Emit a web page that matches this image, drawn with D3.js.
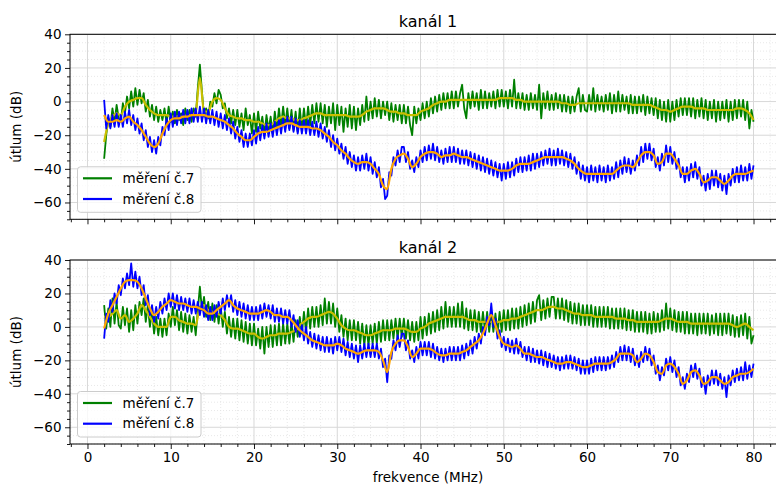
<!DOCTYPE html>
<html><head><meta charset="utf-8">
<script src="https://cdn.jsdelivr.net/npm/d3@7"></script>
<style>body{margin:0;background:#fff}svg text{font-family:"DejaVu Sans",sans-serif}</style>
</head><body>
<svg id="chart" width="776" height="486"></svg>
<script>
// ---------- data ----------
const panelTitles = ["kanál 1", "kanál 2"];
const seriesNames = ["měření č.7", "měření č.8"];
const xLabel = "frekvence (MHz)";
const yLabel = "útlum (dB)";
const xTickValues = [0, 10, 20, 30, 40, 50, 60, 70, 80];
const yTickValues = [-60, -40, -20, 0, 20, 40];
// raw traces: 2 MHz .. 80 MHz, step 0.25 MHz
const rawStart = 2, rawStep = 0.25;
// smoothed traces: 2 MHz .. 80 MHz, step 0.5 MHz
const smStart = 2, smStep = 0.5;

const k1_m7_raw = [
-34,-20,-10,-15,-4,-12,-2,-10, -12,-1,-7,3,-4,6,-3,8, -2,7,-1,5,-6,1,-9,-2, -11,-3,-12,-5,-11,-4,-13,-3,
-12,-6,-13,-5,-11,-7,-14,-4, -11,-5,-12,-4,-9,8,22,6, -9,-4,-10,0,-3,5,-1,7, 4,-4,-1,-10,-4,-13,-5,-14,
-5,-15,-7,-17,-4,-14,-8,-19, -7,-18,-6,-16,-9,-20,-8,-17, -9,-19,-6,-16,-4,-15,-3,-14, -4,-16,-5,-17,-6,-18,-4,-16,
-4,-15,-3,-14,-2,-13,-1,-12, -1,-13,-2,-15,-3,-13,-1,-17, -2,-14,-3,-18,-4,-15,-2,-16, -3,-17,-4,-14,-2,-12,3,-11,
0,-10,2,-9,1,-10,0,-8, 0,-11,-1,-12,-2,-11,-2,-13, -2,-13,-3,-14,-20,-3,-13,-4, -11,-1,-10,0,-9,2,-7,3,
-6,4,-5,5,-4,5,-4,6, -4,6,-3,5,10,-4,-10,5, -4,6,-3,5,-5,7,-4,6, -4,5,-3,6,-4,7,-3,7,
-3,6,-4,7,-3,13,-4,5, -4,5,-5,4,-5,5,-4,4, -5,10,-10,5,-4,6,-5,4, -5,5,-4,4,-6,4,-6,3,
-7,3,-6,3,8,-6,4,-5, -6,4,-5,8,-6,4,-5,3, -6,4,-5,5,-7,4,-6,6, -6,4,-5,3,-7,4,-7,3,
-7,3,-6,4,-8,3,-7,2, -8,2,-10,1,-11,0,-12,1, -12,0,-11,1,-9,2,-8,2, -8,2,-9,2,-10,1,-9,2,
-10,1,-11,0,-10,1,-12,0, -11,0,-10,1,-12,0,-11,1, -10,1,-9,1,-11,0,-16,-5, -12];

const k1_m8_raw = [
1,-16,-8,-16,-8,-15,-7,-15, -8,-15,-6,-13,-5,-14,-8,-17, -10,-19,-13,-23,-17,-27,-21,-30, -23,-31,-21,-26,-15,-20,-10,-17,
-7,-15,-6,-14,-6,-13,-5,-13, -5,-13,-4,-12,-4,-12,-3,-12, -4,-13,-5,-13,-5,-14,-6,-15, -7,-16,-8,-17,-10,-19,-12,-22,
-15,-24,-17,-27,-19,-27,-19,-26, -17,-25,-15,-23,-14,-22,-13,-21, -13,-21,-12,-20,-11,-19,-10,-18, -9,-17,-9,-18,-10,-19,-11,-19,
-11,-19,-11,-20,-12,-20,-12,-21, -13,-22,-15,-24,-17,-27,-20,-29, -22,-31,-25,-34,-27,-37,-30,-39, -32,-41,-33,-41,-32,-40,-31,-41,
-33,-43,-36,-45,-39,-51,-46,-58, -56,-42,-44,-33,-38,-29,-36,-27, -27,-36,-30,-40,-35,-42,-33,-39, -29,-36,-27,-35,-26,-34,-25,-35,
-27,-36,-29,-37,-28,-36,-27,-36, -27,-36,-28,-37,-29,-37,-29,-38, -30,-39,-31,-40,-32,-41,-33,-42, -34,-43,-35,-44,-36,-45,-37,-47,
-37,-46,-36,-45,-36,-44,-34,-42, -33,-42,-33,-41,-32,-41,-31,-40, -31,-39,-30,-38,-29,-37,-28,-38, -29,-38,-28,-37,-29,-38,-30,-39,
-31,-40,-33,-43,-36,-46,-38,-47, -39,-48,-38,-47,-39,-48,-38,-47, -39,-48,-38,-47,-39,-46,-36,-45, -35,-43,-33,-42,-34,-43,-35,-41,
-32,-38,-27,-36,-25,-34,-25,-35, -28,-39,-33,-41,-31,-38,-26,-36, -27,-37,-30,-40,-34,-45,-39,-48, -39,-47,-37,-45,-36,-46,-39,-50,
-44,-53,-43,-52,-41,-50,-41,-51, -43,-53,-44,-55,-43,-50,-40,-48, -39,-48,-38,-47,-39,-47,-37,-46, -38];

const k2_m7_raw = [
13,-1,11,0,17,2,15,1, -1,12,1,11,-3,10,-2,13, 2,15,7,17,3,13,0,9, -4,6,-5,5,-6,5,-5,8,
0,12,1,10,-2,9,-3,8, -4,7,-3,6,-5,10,24,10, 18,6,15,4,14,3,13,2, 12,0,9,-4,6,-6,5,-7,
5,-8,4,-9,3,-10,2,-11, 2,-11,-1,-13,0,-16,0,-12, 1,-12,1,-11,2,-11,2,-10, 2,-10,3,-9,4,-6,6,-4,
9,-3,11,-1,12,0,12,0, 13,1,17,2,15,2,14,0, 11,-3,7,-6,5,-8,4,-8, 4,-8,3,-10,2,-11,1,-11,
1,-10,2,-10,3,-9,4,-8, 4,-8,4,-7,5,-7,5,-6, 5,-7,4,-8,3,-9,3,-8, 6,-7,6,-5,8,-4,9,-3,
10,-2,12,-1,15,0,12,0, 12,0,14,0,15,-1,11,-2, 10,-2,10,-3,9,-3,9,-3, 9,-3,9,-3,8,-4,9,-3,
10,-2,10,-2,11,-1,11,-1, 12,0,13,1,14,2,15,3, 16,19,4,16,5,17,6,18, 18,5,17,5,17,4,16,3,
15,2,14,2,14,1,13,1, 13,1,13,0,12,0,12,0, 12,0,12,-1,11,-1,11,-1, 11,-1,11,-2,10,-2,10,-3,
9,-3,9,-3,9,-4,8,-4, 9,-3,8,-3,10,-2,14,-1, 11,-2,10,-3,9,-3,9,-4, 9,-4,8,-4,8,-5,8,-4,
8,-4,8,-5,7,-4,8,-5, 8,-5,8,-4,8,-5,7,-6, 6,-6,7,-5,8,-7,6,-10, -5];

const k2_m8_raw = [
-7,8,3,16,9,20,14,25, 19,29,23,32,25,38,24,33, 23,30,19,25,13,19,7,13, 3,12,5,15,8,17,10,20,
12,20,11,19,10,18,10,17, 9,17,8,16,8,15,7,15, 6,13,4,12,4,13,6,15, 8,17,10,19,12,19,9,16,
7,15,6,14,5,13,4,12, 4,12,4,13,5,14,6,13, 5,13,3,11,3,11,2,10, 2,10,0,7,-3,4,-6,1,
-8,0,-10,-3,-12,-4,-13,-5, -14,-6,-15,-6,-15,-7,-16,-6, -14,-6,-15,-7,-17,-9,-18,-10, -19,-11,-21,-11,-19,-10,-18,-10,
-18,-10,-18,-10,-19,-13,-24,-19, -33,-17,-19,-8,-14,-5,-12,-4, -4,-14,-8,-19,-14,-21,-12,-19, -9,-17,-9,-17,-9,-18,-10,-19,
-12,-20,-13,-21,-13,-20,-12,-20, -12,-20,-12,-20,-11,-19,-10,-17, -8,-16,-6,-13,-4,-10,0,-5, 6,1,14,0,5,-7,-2,-12,
-6,-14,-7,-15,-8,-16,-7,-16, -9,-18,-12,-20,-12,-21,-13,-21, -14,-22,-14,-23,-15,-24,-16,-24, -17,-25,-18,-26,-18,-25,-17,-25,
-17,-25,-18,-26,-19,-28,-20,-28, -20,-28,-19,-27,-18,-26,-18,-26, -18,-26,-18,-25,-17,-24,-15,-21, -12,-20,-11,-20,-12,-21,-13,-23,
-17,-24,-15,-21,-12,-20,-13,-23, -17,-28,-23,-32,-24,-29,-19,-26, -18,-27,-20,-30,-24,-35,-30,-37, -28,-33,-23,-30,-22,-31,-25,-36,
-30,-40,-29,-35,-26,-34,-26,-35, -28,-37,-30,-42,-29,-35,-26,-33, -25,-32,-24,-32,-21,-31,-23,-30, -22];

const k1_m7_smooth = [
-24,-13,-9,-7,-8,-3,0,1,2,2, -2,-5,-7,-8,-8,-8,-9,-9,-9,-9,
-8,-8,-6,14,-6,-6,0,2,1,-4, -8,-9,-10,-10,-11,-11,-12,-12,-13,-14,
-14,-12,-10,-9,-10,-10,-11,-11,-10,-9, -8,-7,-7,-8,-8,-8,-8,-8,-8,-9,
-9,-9,-8,-6,-5,-4,-4,-4,-5,-6, -6,-7,-7,-8,-8,-8,-6,-5,-4,-2,
-1,0,0,1,1,1,1,1,1,1, 1,1,1,1,1,2,2,2,2,1,
1,0,0,0,0,0,0,0,0,0, -1,-1,-2,-2,-1,-1,-1,-1,-1,-1,
-1,-1,-1,-1,-1,-1,-1,-2,-2,-2, -2,-2,-3,-4,-5,-5,-6,-5,-4,-3,
-3,-3,-4,-4,-4,-5,-5,-5,-5,-5, -5,-5,-4,-4,-5,-7,-11];

const k1_m8_smooth = [
-8,-12,-12,-11,-12,-10,-9,-12,-14,-17, -21,-25,-27,-25,-19,-14,-11,-10,-10,-9,
-9,-8,-8,-8,-8,-9,-9,-10,-11,-12, -14,-16,-19,-21,-23,-23,-21,-19,-18,-18,
-17,-16,-15,-14,-13,-13,-14,-15,-15,-15, -16,-16,-17,-19,-21,-24,-26,-29,-31,-34,
-36,-37,-36,-36,-37,-40,-43,-50,-52,-40, -34,-32,-31,-34,-39,-37,-33,-31,-30,-30,
-31,-33,-32,-32,-31,-32,-33,-33,-34,-35, -36,-37,-38,-39,-40,-41,-41,-41,-40,-38,
-37,-37,-37,-36,-35,-34,-33,-33,-33,-33, -33,-34,-35,-37,-40,-42,-43,-43,-43,-43,
-43,-43,-43,-41,-39,-38,-38,-39,-36,-32, -30,-30,-32,-37,-36,-31,-31,-34,-38,-43,
-43,-41,-40,-43,-48,-47,-45,-45,-47,-49, -47,-44,-43,-43,-43,-42,-41];

const k2_m7_smooth = [
6,6,8,10,5,7,3,5,8,13, 10,6,2,0,0,0,6,6,4,3,
2,2,1,12,13,10,9,8,7,4, 0,-1,-1,-2,-3,-4,-4,-6,-7,-6,
-5,-5,-4,-4,-4,-3,-2,1,3,5, 6,6,7,8,9,8,5,1,-1,-2,
-2,-3,-4,-5,-5,-4,-3,-2,-2,-2, -1,-1,-1,-2,-3,-3,-1,0,2,3,
4,5,6,6,6,6,6,5,4,4, 3,3,3,3,3,3,4,4,5,5,
6,7,8,9,10,10,11,12,12,11, 11,10,9,8,8,7,7,7,6,6,
6,6,6,5,5,5,4,4,3,3, 3,3,3,3,4,5,5,4,3,3,
3,2,2,2,2,2,2,2,2,2, 2,1,0,1,2,0,-2];

const k2_m8_smooth = [
-1,8,13,18,23,27,28,28,27,23, 17,11,7,9,12,14,16,15,14,14,
13,12,12,11,10,8,8,10,12,14, 16,13,11,10,9,8,8,8,9,10,
9,7,7,6,6,4,1,-2,-4,-6, -8,-9,-10,-11,-11,-11,-10,-11,-13,-14,
-15,-16,-15,-14,-14,-14,-15,-20,-27,-15, -10,-8,-8,-12,-18,-16,-13,-13,-13,-14,
-16,-17,-17,-16,-16,-16,-15,-14,-12,-10, -8,-4,2,7,1,-6,-10,-11,-12,-11,
-13,-16,-16,-17,-18,-18,-19,-20,-21,-22, -22,-21,-21,-22,-23,-24,-24,-23,-22,-22,
-22,-22,-21,-19,-16,-16,-16,-17,-21,-19, -16,-17,-21,-27,-28,-23,-22,-24,-28,-34,
-32,-27,-26,-29,-34,-33,-30,-30,-32,-34, -33,-30,-29,-28,-28,-27,-25];

// ---------- drawing ----------
const svg = d3.select("#chart");
const colors = {m7: "#008000", m8: "#0000ff", m7s: "#c8bf00", m8s: "#ffa500"};
const xL = 70, xR = 786;
const x = d3.scaleLinear().domain([-2.1, 83.9]).range([xL, xR]);
const panels = [
  {top: 34.3, bottom: 219.3, title: panelTitles[0], raw: [k1_m7_raw, k1_m8_raw], sm: [k1_m7_smooth, k1_m8_smooth], showX: false},
  {top: 260, bottom: 444, title: panelTitles[1], raw: [k2_m7_raw, k2_m8_raw], sm: [k2_m7_smooth, k2_m8_smooth], showX: true}
];
const xMinor = d3.range(-2, 84, 2).filter(v => v % 10 !== 0);
const yMinor = d3.range(-70, 41, 5).filter(v => v % 20 !== 0);

panels.forEach((p, pi) => {
  const y = d3.scaleLinear().domain([-70, 40]).range([p.bottom, p.top]);
  const g = svg.append("g");
  const clipId = "clip" + pi;
  svg.append("defs").append("clipPath").attr("id", clipId)
    .append("rect").attr("x", xL).attr("y", p.top).attr("width", xR - xL).attr("height", p.bottom - p.top);

  // minor grid
  g.selectAll(".mgx").data(xMinor).join("line")
    .attr("x1", d => x(d)).attr("x2", d => x(d)).attr("y1", p.top).attr("y2", p.bottom)
    .attr("stroke", "#e2e2e2").attr("stroke-width", 0.8).attr("stroke-dasharray", "1,2");
  g.selectAll(".mgy").data(yMinor).join("line")
    .attr("x1", xL).attr("x2", xR).attr("y1", d => y(d)).attr("y2", d => y(d))
    .attr("stroke", "#e2e2e2").attr("stroke-width", 0.8).attr("stroke-dasharray", "1,2");
  // major grid
  g.selectAll(".Mgx").data(xTickValues).join("line")
    .attr("x1", d => x(d)).attr("x2", d => x(d)).attr("y1", p.top).attr("y2", p.bottom)
    .attr("stroke", "#d8d8d8").attr("stroke-width", 1);
  g.selectAll(".Mgy").data(yTickValues).join("line")
    .attr("x1", xL).attr("x2", xR).attr("y1", d => y(d)).attr("y2", d => y(d))
    .attr("stroke", "#d8d8d8").attr("stroke-width", 1);

  const rawLine = d3.line().x((d, i) => x(rawStart + rawStep * i)).y(d => y(d));
  const smLine = d3.line().x((d, i) => x(smStart + smStep * i)).y(d => y(d)).curve(d3.curveMonotoneX);
  const plot = g.append("g").attr("clip-path", `url(#${clipId})`);
  plot.append("path").datum(p.raw[0]).attr("d", rawLine).attr("fill", "none")
    .attr("stroke", colors.m7).attr("stroke-width", 1.8).attr("stroke-linejoin", "round");
  plot.append("path").datum(p.sm[0]).attr("d", smLine).attr("fill", "none")
    .attr("stroke", colors.m7s).attr("stroke-width", 2.2);
  plot.append("path").datum(p.raw[1]).attr("d", rawLine).attr("fill", "none")
    .attr("stroke", colors.m8).attr("stroke-width", 1.8).attr("stroke-linejoin", "round");
  plot.append("path").datum(p.sm[1]).attr("d", smLine).attr("fill", "none")
    .attr("stroke", colors.m8s).attr("stroke-width", 2.2);

  // axes
  const yAxis = d3.axisLeft(y).tickValues(yTickValues).tickSize(5).tickPadding(3.5);
  g.append("g").attr("transform", `translate(${xL},0)`).call(yAxis);
  const yAxisMinor = d3.axisLeft(y).tickValues(yMinor).tickSize(3).tickFormat("");
  g.append("g").attr("transform", `translate(${xL},0)`).call(yAxisMinor);
  const xAxis = d3.axisBottom(x).tickValues(xTickValues).tickSize(5).tickPadding(3.5);
  if (!p.showX) xAxis.tickFormat("");
  g.append("g").attr("transform", `translate(0,${p.bottom})`).call(xAxis);
  const xAxisMinor = d3.axisBottom(x).tickValues(xMinor).tickSize(3).tickFormat("");
  g.append("g").attr("transform", `translate(0,${p.bottom})`).call(xAxisMinor);
  g.selectAll(".domain").remove();
  g.selectAll(".tick line").attr("stroke", "#000").attr("stroke-width", 0.9);
  g.selectAll(".tick text").attr("font-size", 13.5).attr("fill", "#000")
    .attr("font-family", "DejaVu Sans, sans-serif");

  // spines
  g.append("rect").attr("x", xL).attr("y", p.top).attr("width", xR - xL).attr("height", p.bottom - p.top)
    .attr("fill", "none").attr("stroke", "#000").attr("stroke-width", 1);

  // title
  g.append("text").attr("x", (xL + xR) / 2).attr("y", p.top - 7.5).attr("text-anchor", "middle")
    .attr("font-size", 16).text(p.title);
  // y label
  g.append("text").attr("transform", `translate(21,${(p.top + p.bottom) / 2}) rotate(-90)`)
    .attr("text-anchor", "middle").attr("font-size", 13.5).text(yLabel);

  // legend
  const lg = g.append("g").attr("transform", `translate(77.5,${p.bottom - 52.5})`);
  lg.append("rect").attr("width", 123.5).attr("height", 45.5).attr("rx", 3)
    .attr("fill", "#fff").attr("fill-opacity", 0.8).attr("stroke", "#cccccc").attr("stroke-width", 1);
  [colors.m7, colors.m8].forEach((c, i) => {
    const yy = 11.5 + i * 20.7;
    lg.append("line").attr("x1", 5.5).attr("x2", 34.5).attr("y1", yy).attr("y2", yy)
      .attr("stroke", c).attr("stroke-width", 2.2);
    lg.append("text").attr("x", 45).attr("y", yy).attr("dy", "0.35em").attr("font-size", 13.5)
      .text(seriesNames[i]);
  });
});

svg.append("text").attr("x", (xL + xR) / 2).attr("y", 482).attr("text-anchor", "middle")
  .attr("font-size", 13.5).text(xLabel);
</script>
</body></html>
